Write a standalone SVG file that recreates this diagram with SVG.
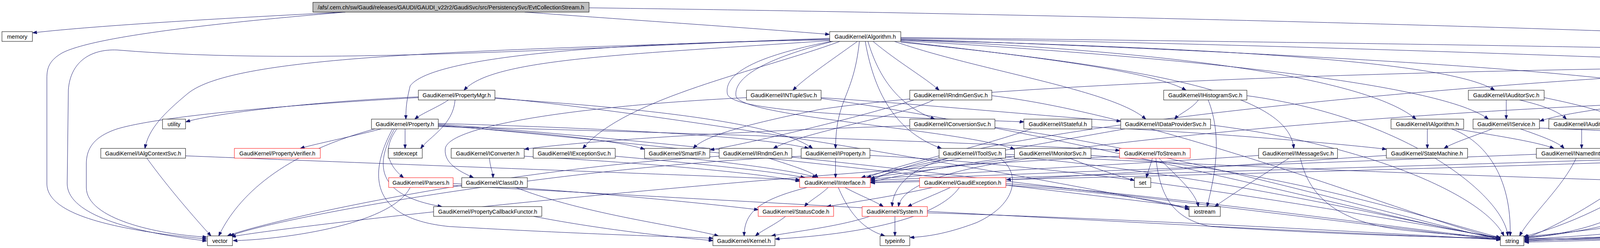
<svg xmlns="http://www.w3.org/2000/svg" width="5345" height="635" viewBox="0 0 5345 635">
<style>
rect{fill:#fff;stroke:#000;stroke-width:1}
.red rect{stroke:#ff0000}
.root rect{fill:#bfbfbf}
text{font-family:"Liberation Sans",Arial,sans-serif;font-size:14.4px;text-anchor:middle;fill:#000}
#connectors path{fill:none;stroke:#191970;stroke-width:1;marker-end:url(#a)}
</style>
<defs>
<marker id="a" markerWidth="11" markerHeight="8" refX="10.5" refY="4" orient="auto" markerUnits="userSpaceOnUse">
<path d="M0,0 L11,4 L0,8 z" fill="#191970" stroke="#191970" stroke-width="1"/>
</marker>
</defs>
<rect x="0" y="0" width="5345" height="635" style="fill:#fff;stroke:none"/>
<g id="connectors">
<path d="M884,31 C600,45 250,65 84,84"/>
<path d="M884,31 C600,55 250,90 160,135 C125,155 120,175 120,200 L120,470 C120,540 250,585 529,612"/>
<path d="M1343,31 C1600,50 1900,70 2123,88"/>
<path d="M1508,20 C3000,40 4800,90 5200,135 C5270,145 5283,170 5283,230 L5283,480 C5283,560 5200,580 4800,595 C4300,610 4000,614 3903,616"/>
<path d="M2200,106 C2185,250 2140,250 2139,380"/>
<path d="M2306,102 C3000,130 3500,200 3625,305"/>
<path d="M2306,104 C3100,150 3700,220 3810,305"/>
<path d="M2124,104 C1600,140 1260,150 1188,231"/>
<path d="M2306,98 C3200,110 4200,150 4603,165"/>
<path d="M2306,108 C2900,170 3300,230 3312,380"/>
<path d="M2128,106 C1900,150 1855,200 1862,240 C1870,290 2300,300 2621,312"/>
<path d="M2306,96 C3500,110 5000,130 5260,160 C5335,170 5340,200 5340,240 L5340,480 C5340,540 5300,560 5150,575 C4600,600 4100,616 3903,620"/>
<path d="M2124,98 C1500,120 800,170 300,128 C230,125 180,160 175,230 L172,470 C172,540 300,590 529,617"/>
<path d="M2290,106 C2500,180 2850,230 2933,305"/>
<path d="M2306,106 C2600,140 2950,180 3036,231"/>
<path d="M2222,106 C2250,200 2300,270 2393,305"/>
<path d="M2195,106 C2120,160 2060,200 2030,231"/>
<path d="M2306,100 C3200,130 4100,180 4311,231"/>
<path d="M2235,106 C2300,160 2370,200 2404,231"/>
<path d="M2306,102 C3000,120 3700,150 3826,231"/>
<path d="M2215,106 C2240,250 2300,340 2410,380"/>
<path d="M2132,106 C1920,160 1880,210 1884,245 C1890,300 2450,330 2597,382"/>
<path d="M2150,106 C1950,180 1600,250 1492,380"/>
<path d="M2124,100 C1200,130 600,140 480,240 C420,290 380,330 371,380"/>
<path d="M2124,102 C1500,110 1100,150 1050,220 C1040,260 1039,280 1039,305"/>
<path d="M4701,181 L4701,231"/>
<path d="M4790,181 C4900,210 5040,250 5066,305"/>
<path d="M4747,181 C4870,250 4870,380 4790,420 C4700,450 4500,462 4341,467"/>
<path d="M4797,176 C5000,210 5200,240 5238,320 L5238,470 C5238,540 5150,560 4800,580 C4300,605 4000,612 3903,612"/>
<path d="M4603,172 C3600,220 2500,330 2229,462"/>
<path d="M4603,170 C3500,180 2500,220 2100,280 C1900,320 1800,350 1775,380"/>
<path d="M1071,248 C800,260 550,290 476,312"/>
<path d="M1148,256 C1120,275 1080,290 1062,305"/>
<path d="M1165,256 C1160,320 1100,350 1077,380"/>
<path d="M1071,250 C700,270 400,300 300,330 C240,350 221,380 221,420 L221,480 C221,560 400,600 529,607"/>
<path d="M1267,250 C1800,300 2800,480 3044,535"/>
<path d="M1267,252 C1700,280 2000,320 2080,380"/>
<path d="M2102,250 C2400,270 2700,300 2869,310"/>
<path d="M2102,252 C2800,350 3700,600 3841,608"/>
<path d="M1911,250 C1500,270 1150,320 1140,380 C1135,420 1180,440 1212,455"/>
<path d="M2390,256 C2300,300 2050,340 1980,380"/>
<path d="M2340,256 C2200,300 1950,360 1818,384"/>
<path d="M2539,245 C3000,300 3700,590 3841,610"/>
<path d="M3068,256 C3050,280 3020,290 3007,305"/>
<path d="M3093,256 C3130,350 3110,450 3090,529"/>
<path d="M3192,245 C3600,300 3850,500 3860,604"/>
<path d="M3856,256 L3856,305"/>
<path d="M3890,256 C3950,270 3990,285 4010,305"/>
<path d="M3953,250 C4150,290 4250,330 4250,420 C4250,540 4050,600 3903,608"/>
<path d="M4300,256 C4150,270 4000,290 3942,310"/>
<path d="M4422,256 C4500,300 4600,340 4645,380"/>
<path d="M4399,256 C4405,300 4415,340 4418,380"/>
<path d="M4370,256 C4300,400 4000,580 3903,610"/>
<path d="M4766,256 C4850,275 4950,290 5015,305"/>
<path d="M4721,256 C4850,350 4880,450 4850,520 C4800,580 4200,605 3903,614"/>
<path d="M4600,251 C3500,280 2600,380 2229,466"/>
<path d="M5085,330 C5060,450 5000,530 4900,560 C4500,600 4000,612 3903,618"/>
<path d="M976,330 C900,350 800,370 769,380"/>
<path d="M1037,330 L1037,380"/>
<path d="M1016,330 C980,380 990,420 1033,455"/>
<path d="M1010,330 C960,420 960,500 1131,529"/>
<path d="M960,330 C700,400 600,520 560,604"/>
<path d="M1122,318 C2000,380 3500,580 3841,614"/>
<path d="M1122,320 C1800,380 2800,500 3044,530"/>
<path d="M1005,330 C940,450 950,560 1150,580 C1500,600 1700,605 1825,610"/>
<path d="M1122,322 C1400,340 1580,360 1650,382"/>
<path d="M1122,316 C1600,330 1950,350 2070,380"/>
<path d="M1122,324 C1800,340 2600,370 2866,385"/>
<path d="M2329,322 C1900,335 1500,360 1343,382"/>
<path d="M2547,326 C3000,380 3700,590 3841,612"/>
<path d="M2640,330 C2500,380 2300,420 2220,455"/>
<path d="M2795,325 C3100,340 3400,365 3549,382"/>
<path d="M2880,330 C2600,380 2300,430 2229,458"/>
<path d="M3099,320 C3500,370 3800,500 3850,604"/>
<path d="M3725,330 C3850,350 3940,365 3978,380"/>
<path d="M3654,330 L3654,380"/>
<path d="M3716,330 C3800,360 3870,450 3866,604"/>
<path d="M3820,330 C3770,350 3720,365 3697,380"/>
<path d="M3892,330 C3950,350 3990,365 4004,380"/>
<path d="M3941,328 C4300,340 4550,360 4550,440 C4550,520 4200,580 3903,606"/>
<path d="M4049,330 L4049,380"/>
<path d="M4100,330 C4200,370 4190,480 4100,530 C4000,580 3930,598 3901,606"/>
<path d="M4035,405 C4000,480 3920,550 3890,604"/>
<path d="M3933,395 C3300,420 2600,445 2229,462"/>
<path d="M3549,398 C3200,420 2800,450 2577,460"/>
<path d="M4336,402 C3500,430 2700,450 2229,466"/>
<path d="M4412,405 C4380,500 4200,580 3903,610"/>
<path d="M4582,400 C3800,430 2800,455 2229,468"/>
<path d="M4674,405 C4620,520 4400,590 3903,612"/>
<path d="M376,405 C430,480 500,560 540,604"/>
<path d="M475,399 C1000,420 1800,450 2047,460"/>
<path d="M1342,400 C1700,420 1950,445 2047,464"/>
<path d="M1253,405 C1255,430 1262,440 1262,455"/>
<path d="M1575,400 C1800,420 1990,440 2060,455"/>
<path d="M1760,405 C1900,420 2050,440 2090,455"/>
<path d="M1968,405 C2030,425 2080,440 2094,455"/>
<path d="M1841,400 C1300,430 700,560 582,604"/>
<path d="M2139,405 L2139,455"/>
<path d="M2227,398 C2900,430 3700,590 3841,608"/>
<path d="M2051,400 C1400,430 700,560 589,604"/>
<path d="M2427,405 C2350,425 2250,440 2205,455"/>
<path d="M2574,400 C3100,440 3700,590 3841,610"/>
<path d="M2574,395 C3200,430 3900,455 4299,466"/>
<path d="M2610,405 C2450,425 2300,445 2215,456"/>
<path d="M2738,405 C2800,430 2860,450 2904,462"/>
<path d="M2793,398 C3300,430 3750,590 3841,608"/>
<path d="M2950,405 C2945,425 2938,440 2935,455"/>
<path d="M2967,405 C3010,450 3060,490 3068,529"/>
<path d="M2959,405 C2970,500 3000,560 3100,580 C3400,600 3700,608 3841,610"/>
<path d="M2866,400 C2000,440 800,570 593,606"/>
<path d="M3222,398 C2900,420 2500,440 2229,458"/>
<path d="M3300,405 C3230,450 3150,500 3110,529"/>
<path d="M3329,405 C3350,500 3420,570 3600,590 C3700,600 3800,606 3841,608"/>
<path d="M1050,480 C1000,580 700,615 597,616"/>
<path d="M1160,475 C2000,520 3400,600 3841,612"/>
<path d="M1160,470 C1500,490 1800,520 1941,537"/>
<path d="M1320,480 C1500,550 1750,580 1839,604"/>
<path d="M2066,480 C1950,510 1905,540 1905,604"/>
<path d="M2120,480 C2100,500 2070,515 2060,529"/>
<path d="M2163,480 C2200,500 2240,515 2261,529"/>
<path d="M2146,480 C2180,560 2220,590 2265,604"/>
<path d="M2387,480 C2300,500 2200,515 2117,529"/>
<path d="M2433,480 C2390,500 2350,515 2324,529"/>
<path d="M2575,470 C3000,500 3700,600 3841,612"/>
<path d="M2575,474 C2800,490 2980,510 3044,537"/>
<path d="M2456,480 C2400,560 2200,600 1985,612"/>
<path d="M2011,554 C1985,575 1950,590 1934,604"/>
<path d="M2226,554 C2150,580 2020,595 1975,604"/>
<path d="M2291,554 L2291,604"/>
<path d="M2374,545 C2900,560 3600,600 3841,614"/>
<path d="M1366,554 C1550,590 1750,610 1825,616"/>
<path d="M2427,405 C2330,430 2285,480 2284,529"/>
<path d="M2640,405 C2450,430 2310,470 2300,529"/>
<path d="M2560,405 C2610,440 2610,520 2500,570 C2420,600 2370,606 2330,608"/>
</g>
<g id="n_root" class="root"><rect x="801" y="6" width="707" height="25"/><text x="1154.5" y="23.5">/afs/.cern.ch/sw/Gaudi/releases/GAUDI/GAUDI_v22r2/GaudiSvc/src/PersistencySvc/EvtCollectionStream.h</text></g>
<g id="n_memory"><rect x="5" y="81" width="78" height="25"/><text x="44" y="98.5">memory</text></g>
<g id="n_Algorithm"><rect x="2124" y="81" width="182" height="25"/><text x="2215" y="98.5">GaudiKernel/Algorithm.h</text></g>
<g id="n_ISvcLocator"><rect x="4603" y="156" width="194" height="25"/><text x="4700" y="173.5">GaudiKernel/ISvcLocator.h</text></g>
<g id="n_PropertyMgr"><rect x="1071" y="231" width="196" height="25"/><text x="1169" y="248.5">GaudiKernel/PropertyMgr.h</text></g>
<g id="n_INTupleSvc"><rect x="1911" y="231" width="191" height="25"/><text x="2006.5" y="248.5">GaudiKernel/INTupleSvc.h</text></g>
<g id="n_IRndmGenSvc"><rect x="2329" y="231" width="210" height="25"/><text x="2434" y="248.5">GaudiKernel/IRndmGenSvc.h</text></g>
<g id="n_IHistogramSvc"><rect x="2979" y="231" width="213" height="25"/><text x="3085.5" y="248.5">GaudiKernel/IHistogramSvc.h</text></g>
<g id="n_IAuditorSvc"><rect x="3759" y="231" width="194" height="25"/><text x="3856" y="248.5">GaudiKernel/IAuditorSvc.h</text></g>
<g id="n_IChronoStatSvc"><rect x="4287" y="231" width="218" height="25"/><text x="4396" y="248.5">GaudiKernel/IChronoStatSvc.h</text></g>
<g id="n_ISvcManager" class="red"><rect x="4600" y="231" width="202" height="25"/><text x="4701" y="248.5">GaudiKernel/ISvcManager.h</text></g>
<g id="n_utility"><rect x="416" y="305" width="59" height="25"/><text x="445.5" y="322.5">utility</text></g>
<g id="n_Property"><rect x="951" y="305" width="171" height="25"/><text x="1036.5" y="322.5">GaudiKernel/Property.h</text></g>
<g id="n_IConversionSvc"><rect x="2329" y="305" width="218" height="25"/><text x="2438" y="322.5">GaudiKernel/IConversionSvc.h</text></g>
<g id="n_IStateful"><rect x="2621" y="305" width="174" height="25"/><text x="2708" y="322.5">GaudiKernel/IStateful.h</text></g>
<g id="n_IDataProviderSvc"><rect x="2869" y="305" width="230" height="25"/><text x="2984" y="322.5">GaudiKernel/IDataProviderSvc.h</text></g>
<g id="n_IAlgorithm"><rect x="3561" y="305" width="186" height="25"/><text x="3654" y="322.5">GaudiKernel/IAlgorithm.h</text></g>
<g id="n_IService"><rect x="3771" y="305" width="170" height="25"/><text x="3856" y="322.5">GaudiKernel/IService.h</text></g>
<g id="n_IAuditor"><rect x="3965" y="305" width="169" height="25"/><text x="4049.5" y="322.5">GaudiKernel/IAuditor.h</text></g>
<g id="n_TypeNameString"><rect x="4975" y="305" width="226" height="25"/><text x="5088" y="322.5">GaudiKernel/TypeNameString.h</text></g>
<g id="n_IAlgContextSvc"><rect x="258" y="380" width="217" height="25"/><text x="366.5" y="397.5">GaudiKernel/IAlgContextSvc.h</text></g>
<g id="n_PropertyVerifier" class="red"><rect x="600" y="380" width="220" height="25"/><text x="710" y="397.5">GaudiKernel/PropertyVerifier.h</text></g>
<g id="n_stdexcept"><rect x="994" y="380" width="87" height="25"/><text x="1037.5" y="397.5">stdexcept</text></g>
<g id="n_IConverter"><rect x="1155" y="380" width="187" height="25"/><text x="1248.5" y="397.5">GaudiKernel/IConverter.h</text></g>
<g id="n_IExceptionSvc"><rect x="1365" y="380" width="210" height="25"/><text x="1470" y="397.5">GaudiKernel/IExceptionSvc.h</text></g>
<g id="n_SmartIF"><rect x="1650" y="380" width="167" height="25"/><text x="1733.5" y="397.5">GaudiKernel/SmartIF.h</text></g>
<g id="n_IRndmGen"><rect x="1841" y="380" width="186" height="25"/><text x="1934" y="397.5">GaudiKernel/IRndmGen.h</text></g>
<g id="n_IProperty"><rect x="2051" y="380" width="176" height="25"/><text x="2139" y="397.5">GaudiKernel/IProperty.h</text></g>
<g id="n_IToolSvc"><rect x="2404" y="380" width="170" height="25"/><text x="2489" y="397.5">GaudiKernel/IToolSvc.h</text></g>
<g id="n_IMonitorSvc"><rect x="2597" y="380" width="196" height="25"/><text x="2695" y="397.5">GaudiKernel/IMonitorSvc.h</text></g>
<g id="n_ToStream" class="red"><rect x="2866" y="380" width="181" height="25"/><text x="2956.5" y="397.5">GaudiKernel/ToStream.h</text></g>
<g id="n_IMessageSvc"><rect x="3222" y="380" width="202" height="25"/><text x="3323" y="397.5">GaudiKernel/IMessageSvc.h</text></g>
<g id="n_StateMachine"><rect x="3549" y="380" width="208" height="25"/><text x="3653" y="397.5">GaudiKernel/StateMachine.h</text></g>
<g id="n_INamedInterface"><rect x="3933" y="380" width="228" height="25"/><text x="4047" y="397.5">GaudiKernel/INamedInterface.h</text></g>
<g id="n_IStatSvc"><rect x="4336" y="380" width="172" height="25"/><text x="4422" y="397.5">GaudiKernel/IStatSvc.h</text></g>
<g id="n_IChronoSvc"><rect x="4582" y="380" width="191" height="25"/><text x="4677.5" y="397.5">GaudiKernel/IChronoSvc.h</text></g>
<g id="n_Parsers" class="red"><rect x="995" y="455" width="165" height="25"/><text x="1077.5" y="472.5">GaudiKernel/Parsers.h</text></g>
<g id="n_ClassID"><rect x="1182" y="455" width="168" height="25"/><text x="1266" y="472.5">GaudiKernel/ClassID.h</text></g>
<g id="n_IInterface" class="red"><rect x="2047" y="455" width="181" height="25"/><text x="2137.5" y="472.5">GaudiKernel/IInterface.h</text></g>
<g id="n_GaudiException" class="red"><rect x="2354" y="455" width="221" height="25"/><text x="2464.5" y="472.5">GaudiKernel/GaudiException.h</text></g>
<g id="n_set"><rect x="2904" y="455" width="42" height="25"/><text x="2925" y="472.5">set</text></g>
<g id="n_list"><rect x="4299" y="455" width="42" height="25"/><text x="4320" y="472.5">list</text></g>
<g id="n_PropertyCallbackFunctor"><rect x="1110" y="529" width="277" height="25"/><text x="1248.5" y="546.5">GaudiKernel/PropertyCallbackFunctor.h</text></g>
<g id="n_StatusCode" class="red"><rect x="1941" y="529" width="193" height="25"/><text x="2037.5" y="546.5">GaudiKernel/StatusCode.h</text></g>
<g id="n_System" class="red"><rect x="2207" y="529" width="167" height="25"/><text x="2290.5" y="546.5">GaudiKernel/System.h</text></g>
<g id="n_iostream"><rect x="3044" y="529" width="80" height="25"/><text x="3084" y="546.5">iostream</text></g>
<g id="n_vector"><rect x="531" y="604" width="64" height="25"/><text x="563" y="621.5">vector</text></g>
<g id="n_Kernel"><rect x="1825" y="604" width="159" height="25"/><text x="1904.5" y="621.5">GaudiKernel/Kernel.h</text></g>
<g id="n_typeinfo"><rect x="2253" y="604" width="76" height="25"/><text x="2291" y="621.5">typeinfo</text></g>
<g id="n_string"><rect x="3841" y="604" width="60" height="25"/><text x="3871" y="621.5">string</text></g>
</svg>
